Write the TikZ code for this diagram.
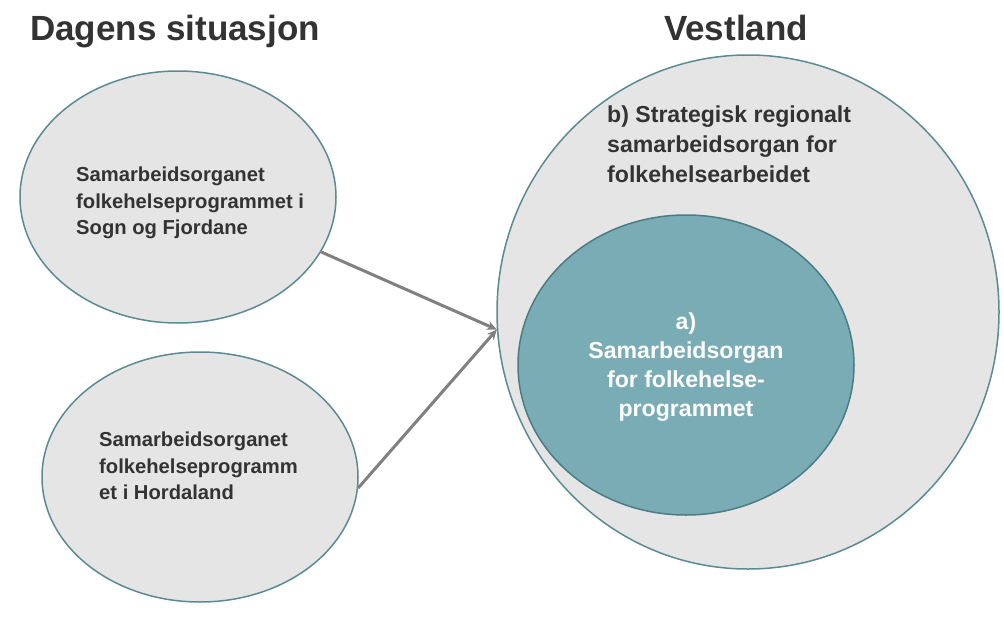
\documentclass[tikz,border=0pt]{standalone}
\usepackage{fontspec}
\setmainfont{Liberation Sans}
\usetikzlibrary{shapes.geometric,arrows.meta}
\definecolor{ellfill}{HTML}{E5E5E5}
\definecolor{elledge}{HTML}{5C8A94}
\definecolor{innerfill}{HTML}{7AACB6}
\definecolor{inneredge}{HTML}{4C7C83}
\definecolor{txt}{HTML}{333333}
\definecolor{arrowgray}{HTML}{808080}
\tikzset{
  ell/.style={ellipse, draw=elledge, fill=ellfill, line width=1.5pt, inner sep=0pt},
  innerell/.style={ellipse, draw=inneredge, fill=innerfill, line width=1.5pt, inner sep=0pt},
  title/.style={text=txt, font=\bfseries\fontsize{35}{40}\selectfont, inner sep=0pt, anchor=base},
  lefttext/.style={text=txt, font=\bfseries\fontsize{20.2}{26.5}\selectfont, inner sep=0pt, align=left, anchor=north west},
  bigtext/.style={text=txt, font=\bfseries\fontsize{23.1}{30}\selectfont, inner sep=0pt, align=left, anchor=north west},
  innertext/.style={text=white, font=\bfseries\fontsize{23.1}{29}\selectfont, inner sep=0pt, align=center, anchor=north},
  conn/.style={draw=arrowgray, line width=3pt, -{Stealth[length=10pt,width=9pt]}}
}
\begin{document}
\begin{tikzpicture}[x=1pt,y=-1pt]
\useasboundingbox (0,0) rectangle (1004,616);
\node[title] (t1) at (175,40) {Dagens situasjon};
\node[title] (t2) at (736,40) {Vestland};
\node[ell, minimum width=316pt, minimum height=252pt] (e1) at (178,197) {};
\node[ell, minimum width=316pt, minimum height=250pt] (e2) at (200,477) {};
\node[ell, minimum width=502pt, minimum height=514pt] (big) at (748,312) {};
\node[innerell, minimum width=336pt, minimum height=300pt] (inner) at (686,365) {};
\node[lefttext] (l1) at (76,167) {Samarbeidsorganet\\folkehelseprogrammet i\\Sogn og Fjordane};
\node[lefttext] (l2) at (99,432) {Samarbeidsorganet\\folkehelseprogramm\\et i Hordaland};
\node[bigtext] (b) at (607,106) {b) Strategisk regionalt\\samarbeidsorgan for\\folkehelsearbeidet};
\node[innertext] (a) at (686,313) {a)\\Samarbeidsorgan\\for folkehelse-\\programmet};
\coordinate (tip) at (big.184);
\draw[conn] (e1.-21) -- (tip);
\draw[conn] (e2.-4) -- (tip);
\end{tikzpicture}
\end{document}
